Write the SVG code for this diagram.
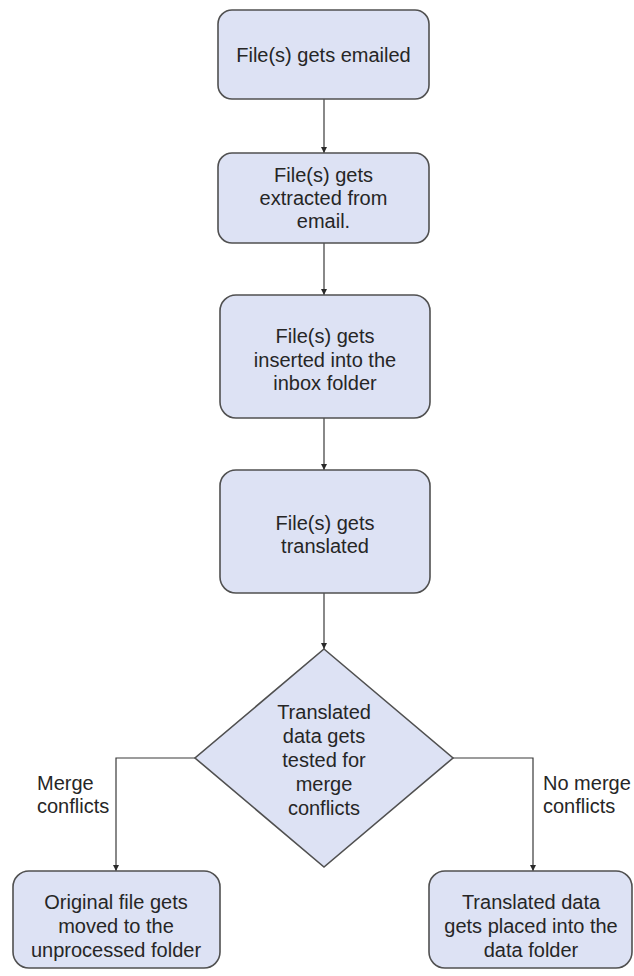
<svg xmlns="http://www.w3.org/2000/svg" width="634" height="976" viewBox="0 0 634 976">
  <style>
    .box { fill: #dde2f4; stroke: #505050; stroke-width: 1.6; }
    .lbl { font-family: "Liberation Sans", Arial, sans-serif; font-size: 20px; fill: #262626; text-anchor: middle; }
    .side { font-family: "Liberation Sans", Arial, sans-serif; font-size: 20px; fill: #262626; }
    .wire { fill: none; stroke: #3a3a3a; stroke-width: 1.2; }
  </style>
  <defs>
    <marker id="arrow" viewBox="0 0 8 8" refX="8" refY="4" markerWidth="6" markerHeight="6" orient="auto" markerUnits="userSpaceOnUse">
      <path d="M0,0 L8,4 L0,8 z" fill="#2a2a2a"/>
    </marker>
  </defs>
  <rect width="634" height="976" fill="#ffffff"/>

  <g id="connectors">
    <path class="wire" d="M324,99 V153" marker-end="url(#arrow)"/>
    <path class="wire" d="M324,243 V295" marker-end="url(#arrow)"/>
    <path class="wire" d="M324,418 V470" marker-end="url(#arrow)"/>
    <path class="wire" d="M324,593 V649" marker-end="url(#arrow)"/>
    <path class="wire" d="M195,758 H116 V871" marker-end="url(#arrow)"/>
    <path class="wire" d="M453,758 H533 V871" marker-end="url(#arrow)"/>
  </g>

  <g id="emailed">
    <rect class="box" x="218" y="10" width="211" height="89" rx="14"/>
    <text class="lbl" x="323.5" y="62">File(s) gets emailed</text>
  </g>

  <g id="extracted">
    <rect class="box" x="218" y="153" width="211" height="90" rx="14"/>
    <text class="lbl" x="323.5" y="182">File(s) gets</text>
    <text class="lbl" x="323.5" y="205">extracted from</text>
    <text class="lbl" x="323.5" y="228">email.</text>
  </g>

  <g id="inserted">
    <rect class="box" x="220" y="295" width="210" height="123" rx="16"/>
    <text class="lbl" x="325" y="343">File(s) gets</text>
    <text class="lbl" x="325" y="367">inserted into the</text>
    <text class="lbl" x="325" y="390">inbox folder</text>
  </g>

  <g id="translated">
    <rect class="box" x="220" y="470" width="210" height="123" rx="16"/>
    <text class="lbl" x="325" y="530">File(s) gets</text>
    <text class="lbl" x="325" y="553">translated</text>
  </g>

  <g id="merge-test">
    <polygon class="box" points="324,649 453,758 324,867 195,758"/>
    <text class="lbl" x="324" y="719">Translated</text>
    <text class="lbl" x="324" y="743">data gets</text>
    <text class="lbl" x="324" y="767">tested for</text>
    <text class="lbl" x="324" y="791">merge</text>
    <text class="lbl" x="324" y="815">conflicts</text>
  </g>

  <g id="label-conflicts">
    <text class="side" x="37" y="790">Merge</text>
    <text class="side" x="37" y="813">conflicts</text>
  </g>

  <g id="label-no-conflicts">
    <text class="side" x="543" y="790">No merge</text>
    <text class="side" x="543" y="813">conflicts</text>
  </g>

  <g id="unprocessed">
    <rect class="box" x="13" y="871" width="207" height="97" rx="16"/>
    <text class="lbl" x="116" y="909">Original file gets</text>
    <text class="lbl" x="116" y="933">moved to the</text>
    <text class="lbl" x="116" y="957">unprocessed folder</text>
  </g>

  <g id="data-folder">
    <rect class="box" x="429" y="871" width="203" height="97" rx="16"/>
    <text class="lbl" x="531" y="909">Translated data</text>
    <text class="lbl" x="531" y="933">gets placed into the</text>
    <text class="lbl" x="531" y="957">data folder</text>
  </g>
</svg>
